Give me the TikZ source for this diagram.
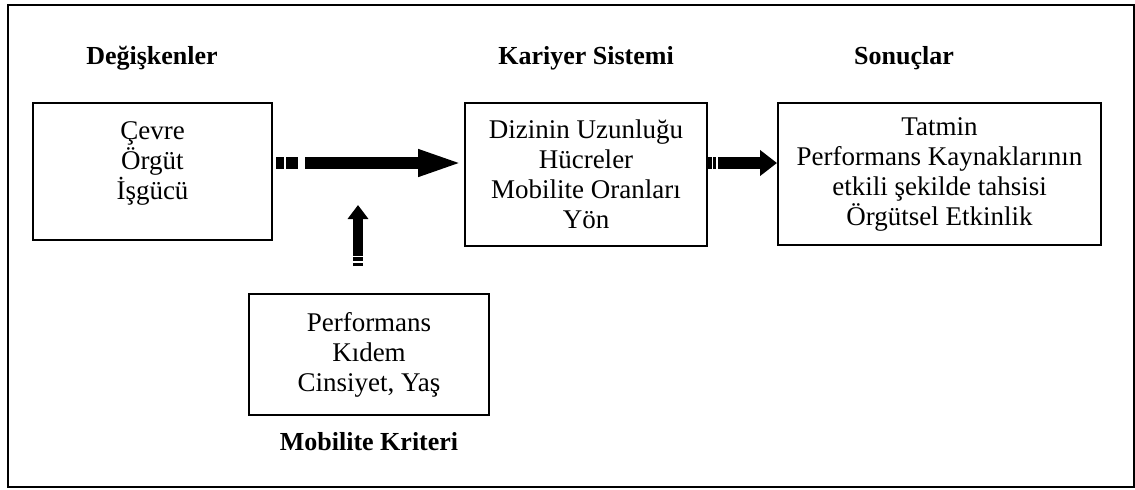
\documentclass[tikz,border=0pt]{standalone}
\usepackage{fontspec}
\setmainfont{Liberation Serif}
\usetikzlibrary{arrows.meta}

\begin{document}
\begin{tikzpicture}[x=0.5pt, y=-0.5pt]
	\tikzstyle{kutu} = [draw, line width=1pt, align=center, inner sep=0pt, font=\fontsize{13.5}{15}\selectfont]
	\tikzstyle{baslik} = [font=\fontsize{13}{15}\selectfont\bfseries]
	\useasboundingbox (0,0) rectangle (1135,489);
	\draw [line width=0.8pt] (8,5) rectangle (1134,487);
	% kutular
	\node [kutu, minimum width=119.5pt, minimum height=68.5pt, text depth=11pt] (girdi) at (152.5,171.5) {Çevre\\Örgüt\\İşgücü};
	\node [kutu, minimum width=121pt, minimum height=71.5pt] (sistem) at (586,174.5) {Dizinin Uzunluğu\\Hücreler\\Mobilite Oranları\\Yön};
	\node [kutu, minimum width=161.5pt, minimum height=71pt] (sonuc) at (939.5,174) {Tatmin\\Performans Kaynaklarının\\etkili şekilde tahsisi\\Örgütsel Etkinlik};
	\node [kutu, minimum width=120pt, minimum height=60.5pt] (kriter) at (369,354.5) {Performans\\Kıdem\\Cinsiyet, Yaş};
	% basliklar
	\node [baslik] (b1) at (152,58) {Değişkenler};
	\node [baslik] (b2) at (586,58) {Kariyer Sistemi};
	\node [baslik] (b3) at (904,58) {Sonuçlar};
	\node [baslik] (b4) at (369,442) {Mobilite Kriteri};
	% oklar
	\coordinate (hedef) at (358,205);
	\draw [line width=5.75pt, -{Triangle[length=23pt, width=12pt]}, dash pattern=on 4pt off 1pt on 6pt off 3.5pt on 400pt]
		([xshift=1.5pt, yshift=4.25pt]girdi.east) -- ([yshift=5.75pt]sistem.west);
	\draw [line width=6pt, -{Triangle[length=8.5pt, width=12.5pt]}, dash pattern=on 2pt off 0.5pt on 1.5pt off 1pt on 400pt]
		([yshift=5.75pt]sistem.east) -- ([yshift=5.5pt]sonuc.west);
	\draw [line width=5pt, -{Triangle[length=7pt, width=10pt]}, dash pattern=on 1.75pt off 1pt on 1.75pt off 0.75pt on 400pt]
		([xshift=-5.5pt, yshift=13.5pt]kriter.north) -- (hedef);
\end{tikzpicture}
\end{document}
